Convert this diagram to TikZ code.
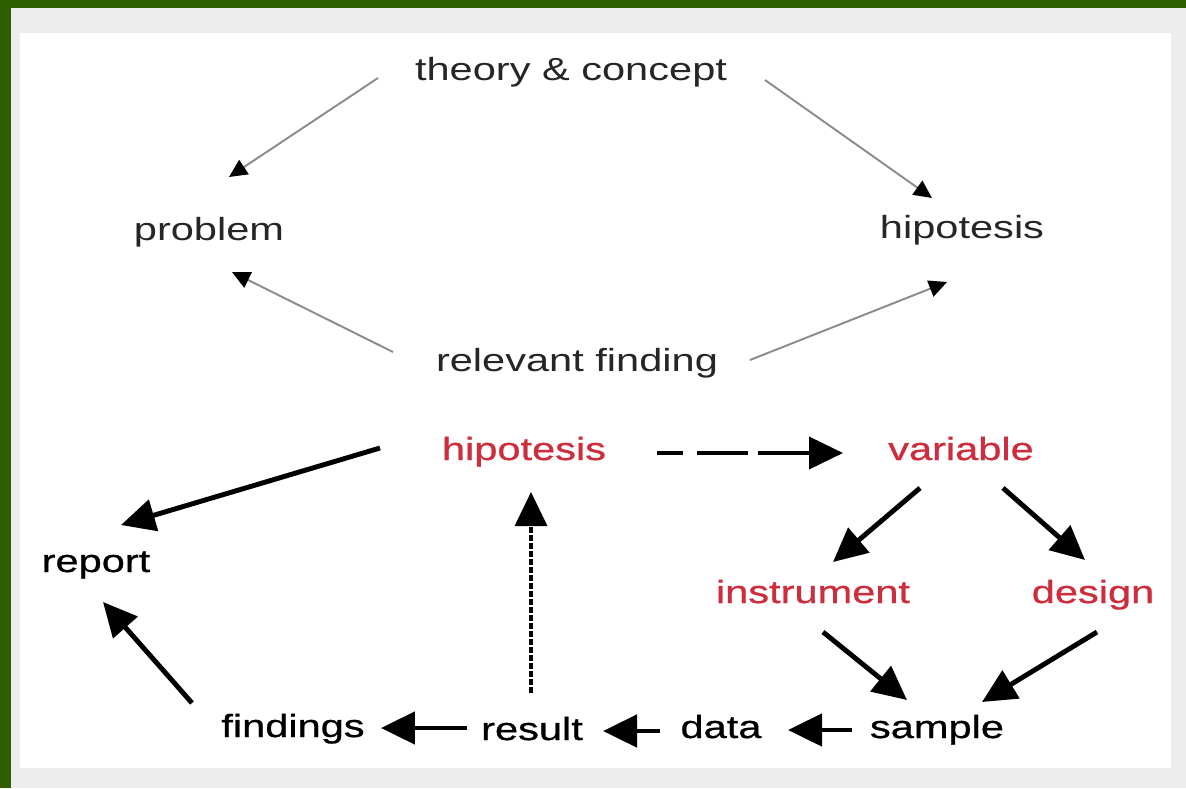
\documentclass[tikz,border=0pt]{standalone}
\usepackage{fontspec}
\setmainfont{Liberation Sans}[FakeStretch=1.3]
\newfontfamily\heavyfont{Liberation Sans}[FakeStretch=1.3, FakeBold=0.8]
\usetikzlibrary{arrows.meta, calc}
\definecolor{framegreen}{RGB}{47,94,0}
\definecolor{termred}{RGB}{205,45,60}

\begin{document}
\begin{tikzpicture}[x=0.02cm, y=-0.02cm,
    term/.style={anchor=base, inner sep=0pt,
                 font=\fontsize{18.2}{22}\selectfont, text=black!85},
    lowterm/.style={term, font=\heavyfont\fontsize{18.2}{22}\selectfont, text=black},
    redterm/.style={lowterm, text=termred},
    faint/.style={-{Triangle[length=0.36cm, width=0.34cm, color=black]},
                  draw=black!45, line width=1.1pt},
    link/.style={-{Triangle[length=0.68cm, width=0.64cm]}, line width=2.8pt},
]

% frame
\useasboundingbox (0,0) rectangle (1186,788);
\fill[framegreen] (0,0) rectangle (1186,788);
\fill[black!7] (11,8) rectangle (1186,788);
\fill[white] (20,33) rectangle (1171,768);

% upper part
\node[term] (theory)   at (571,80)  {theory \& concept};
\node[term] (problem)  at (209,240) {problem};
\node[term] (hipo)     at (962,238) {hipotesis};
\node[term] (relevant) at (577,371) {relevant finding};

% lower part
\node[redterm]  (hipored) at (524,460) {hipotesis};
\node[redterm]  (variable) at (961,460) {variable};
\node[lowterm]  (report)  at (96,572)  {report};
\node[redterm]  (instr)   at (813,603) {instrument};
\node[redterm]  (design)  at (1093,603) {design};
\node[lowterm]  (sample)  at (937,738) {sample};
\node[lowterm]  (data)    at (721,738) {data};
\node[lowterm]  (result)  at (532,740) {result};
\node[lowterm]  (findings) at (293,737) {findings};

% theory -> problem, hipotesis
\draw[faint] ($(theory.base)+(-193,-2)$) -- ($(problem.base)+(20,-63)$);
\draw[faint] ($(theory.base)+(194,0)$) -- ($(hipo.base)+(-30,-40)$);

% relevant finding -> problem, hipotesis
\draw[faint] ($(relevant.base)+(-184,-19)$) -- ($(problem.base)+(23,32)$);
\draw[faint] ($(relevant.base)+(173,-11)$) -- ($(hipo.base)+(-15,44)$);

% hipotesis -> report
\draw[link] ($(hipored.base)+(-144,-12)$) -- ($(report.base)+(25,-47)$);

% hipotesis -> variable
\draw[link, line width=2.3pt,
      dash pattern=on 0.52cm off 0.28cm on 1.02cm off 0.2cm on 3cm]
     ($(hipored.base)+(133,-7)$) -- ($(variable.base)+(-118,-7)$);

% variable -> instrument, design
\draw[link] ($(variable.base)+(-41,28)$) -- ($(instr.base)+(20,-41)$);
\draw[link] ($(variable.base)+(42,28)$) -- ($(design.base)+(-8,-43)$);

% instrument, design -> sample
\draw[link] ($(instr.base)+(10,29)$) -- ($(sample.base)+(-30,-38)$);
\draw[link] ($(design.base)+(4,29)$) -- ($(sample.base)+(45,-36)$);

% sample -> data -> result -> findings -> report
\draw[link] ($(sample.base)+(-85,-8)$) -- ($(data.base)+(67,-8)$);
\draw[link] ($(data.base)+(-61,-7)$) -- ($(result.base)+(71,-9)$);
\draw[link] ($(result.base)+(-65,-12)$) -- ($(findings.base)+(88,-9)$);
\draw[link] ($(findings.base)+(-101,-34)$) -- ($(report.base)+(7,30)$);

% result -> hipotesis
\draw[link, line width=2pt, dash pattern=on 0.12cm off 0.04cm]
     ($(result.base)+(-1,-47)$) -- ($(hipored.base)+(7,32)$);

\end{tikzpicture}
\end{document}
